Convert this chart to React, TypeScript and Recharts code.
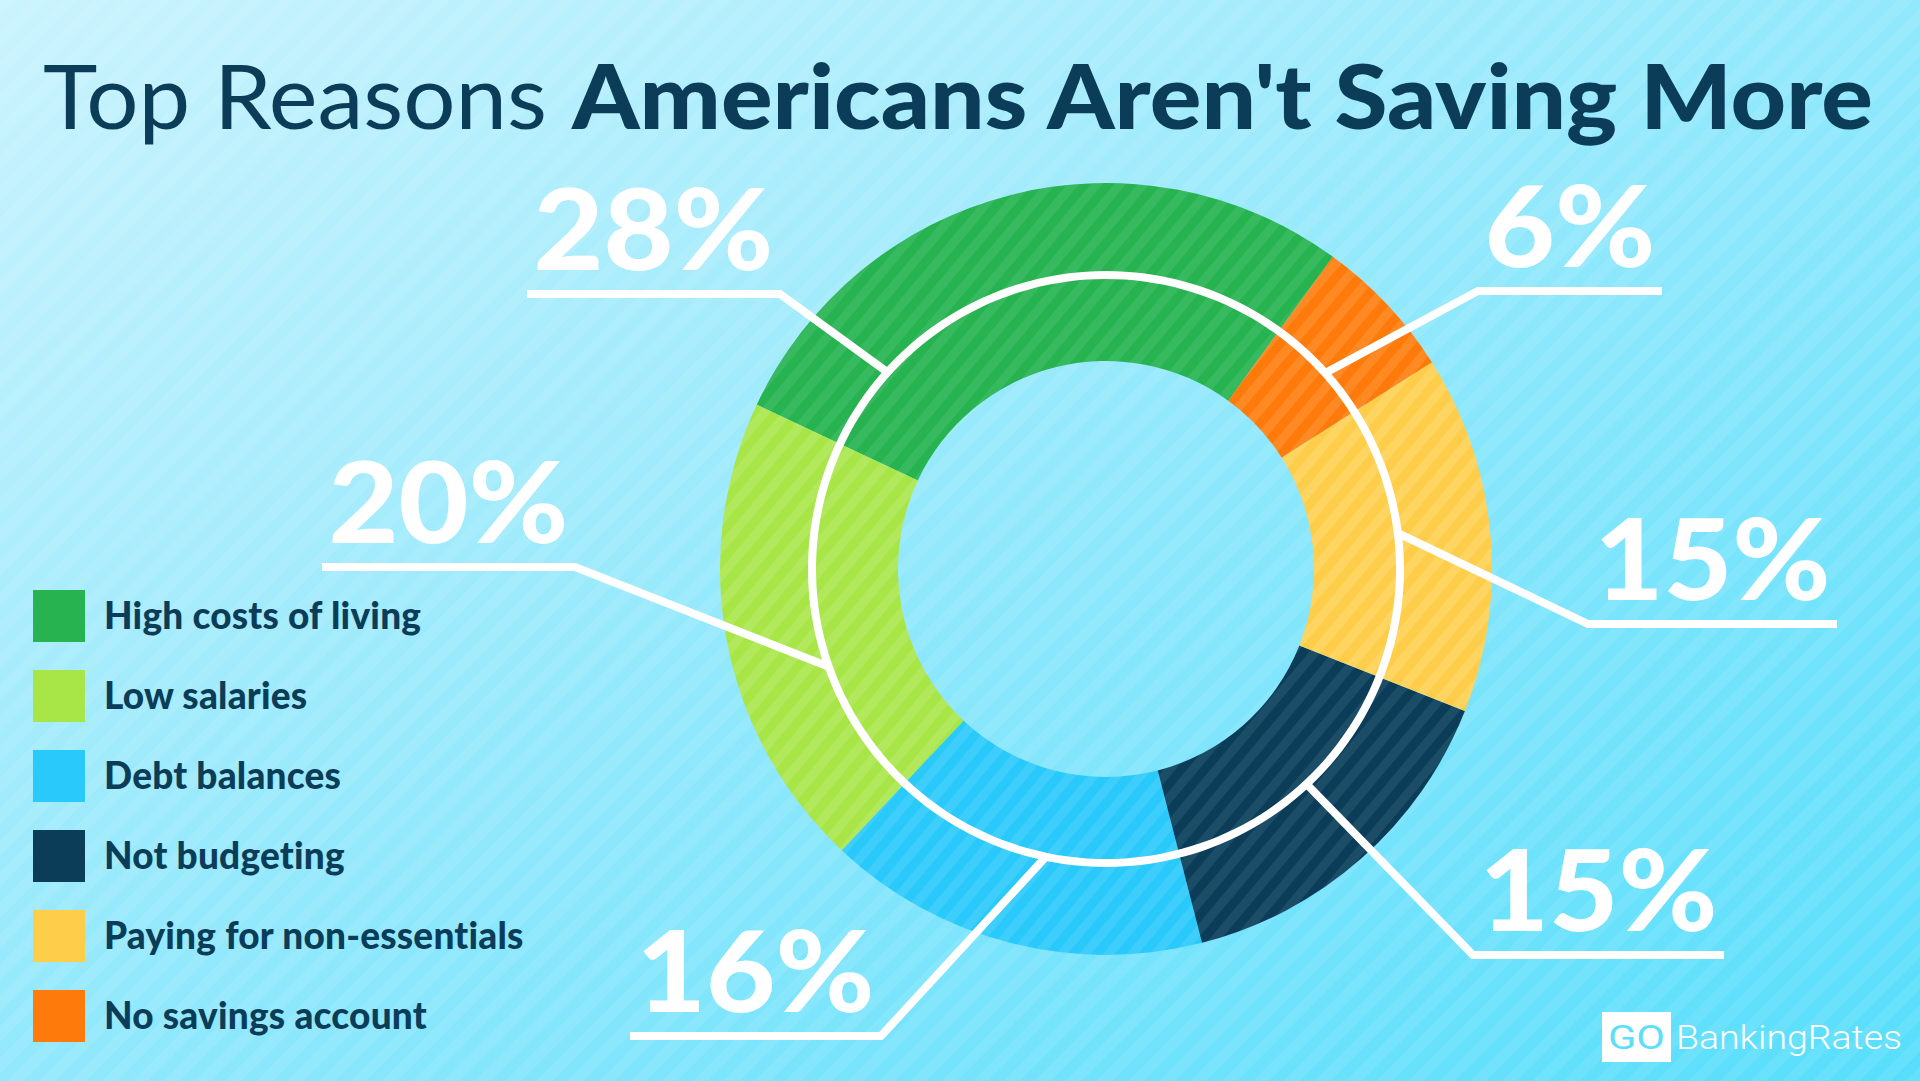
import React from "react";
import { PieChart, Pie, Cell } from "recharts";

const reasons = [
  "High costs of living",
  "Low salaries",
  "Debt balances",
  "Not budgeting",
  "Paying for non-essentials",
  "No savings account",
];
const shares = [28, 20, 16, 15, 15, 6];
const sliceColors = ["#27b34f", "#a8e547", "#29c9fb", "#0b3d59", "#fecd4a", "#fe7a0b"];
const stripeColors = ["#37b95f", "#b2e85b", "#3dcefb", "#1c4d67", "#fdd560", "#ff8a24"];

const data = reasons.map((name, i) => ({ name, value: shares[i] }));
const ring = [{ name: "ring", value: 1 }];

const INK = "#0b3d58";
const CX = 1106;
const CY = 569;
const RING_R = 294;

// where each callout leaves the white ring, where it bends, and how long the underline is
const labelLayout = [
  { nudge: 33.6, dx: -326, dy: -275, len: -253 },
  { nudge: 8.6, dx: -531, dy: -2, len: -253 },
  { nudge: 2.6, dx: -225, dy: 467, len: -251 },
  { nudge: 1.6, dx: 367, dy: 386, len: 251 },
  { nudge: 1.6, dx: 482, dy: 55, len: 249 },
  { nudge: -1.4, dx: 372, dy: -278, len: 184 },
];

const RAD = Math.PI / 180;

function renderLabel(props: any) {
  const { cx, cy, midAngle, index, value } = props;
  const lay = labelLayout[index];
  const a = (midAngle + lay.nudge) * RAD;
  const ax = cx + RING_R * Math.cos(a);
  const ay = cy - RING_R * Math.sin(a);
  const ex = cx + lay.dx;
  const ey = cy + lay.dy;
  const ux = ex + lay.len;
  return (
    <g key={`lbl-${index}`}>
      <polyline
        points={`${ax},${ay} ${ex},${ey} ${ux},${ey}`}
        fill="none"
        stroke="#fff"
        strokeWidth={8}
      />
      <text
        x={(ex + ux) / 2}
        y={ey - 24}
        textAnchor="middle"
        fill="#fff"
        fontFamily="Lato"
        fontWeight={900}
        fontSize={112}
        textLength={Math.abs(lay.len) - 13}
        lengthAdjust="spacingAndGlyphs"
      >
        {value}%
      </text>
    </g>
  );
}

export default function App() {
  return (
    <div
      style={{
        position: "absolute",
        left: 0,
        top: 0,
        width: 1920,
        height: 1081,
        overflow: "hidden",
        background:
          "repeating-linear-gradient(135deg, rgba(255,255,255,0.08) 0 11px, rgba(255,255,255,0) 11px 22px), linear-gradient(to bottom right, #caf3fd 0%, #92e8fc 50%, #57defc 100%)",
      }}
    >
      <svg width={0} height={0} style={{ position: "absolute" }}>
        <defs>
          {sliceColors.map((c, i) => (
            <pattern
              key={i}
              id={`stripe${i}`}
              patternUnits="userSpaceOnUse"
              width={18}
              height={18}
              patternTransform="rotate(40)"
            >
              <rect width={18} height={18} fill={c} />
              <rect width={9} height={18} fill={stripeColors[i]} />
            </pattern>
          ))}
        </defs>
      </svg>

      <div style={{ position: "absolute", left: 0, top: 0 }}>
        <PieChart width={1920} height={1081} margin={{ top: 0, right: 0, bottom: 0, left: 0 }}>
          <Pie
            data={data}
            dataKey="value"
            cx={CX}
            cy={CY}
            innerRadius={208}
            outerRadius={386}
            startAngle={54}
            endAngle={414}
            stroke="none"
            label={renderLabel}
            labelLine={false}
            isAnimationActive={false}
          >
            {data.map((d, i) => (
              <Cell key={d.name} fill={`url(#stripe${i})`} />
            ))}
          </Pie>
          <Pie
            data={ring}
            dataKey="value"
            cx={CX}
            cy={CY}
            innerRadius={290}
            outerRadius={298}
            startAngle={0}
            endAngle={360}
            fill="#fff"
            stroke="none"
            legendType="none"
            isAnimationActive={false}
          />
        </PieChart>
      </div>

      <svg
        width={1920}
        height={1081}
        style={{ position: "absolute", left: 0, top: 0, pointerEvents: "none" }}
      >
        <text x={43} y={129} fontFamily="Lato" fontWeight={400} fontSize={89} fill={INK}
          textLength={504} lengthAdjust="spacingAndGlyphs">
          Top Reasons
        </text>
        <text x={572} y={129} fontFamily="Lato" fontWeight={900} fontSize={89} fill={INK}
          textLength={1301} lengthAdjust="spacingAndGlyphs">
          Americans Aren't Saving More
        </text>

        {reasons.map((r, i) => (
          <g key={r}>
            <rect x={33} y={590 + i * 80} width={52} height={52} fill={sliceColors[i]} />
            <text x={104} y={629 + i * 80} fontFamily="Lato" fontWeight={900} fontSize={37}
              letterSpacing={0.2} fill={INK}>
              {r}
            </text>
          </g>
        ))}

        <rect x={1602} y={1012} width={69} height={50} fill="#fff" />
        <text x={1636.5} y={1049} textAnchor="middle" fontFamily="Roboto" fontWeight={400}
          fontSize={34} fill="#5ddffc" textLength={57} lengthAdjust="spacingAndGlyphs">
          GO
        </text>
        <text x={1676} y={1049} fontFamily="Roboto" fontWeight={300} fontSize={34} fill="#fff"
          textLength={226} lengthAdjust="spacingAndGlyphs">
          BankingRates
        </text>
      </svg>
    </div>
  );
}
